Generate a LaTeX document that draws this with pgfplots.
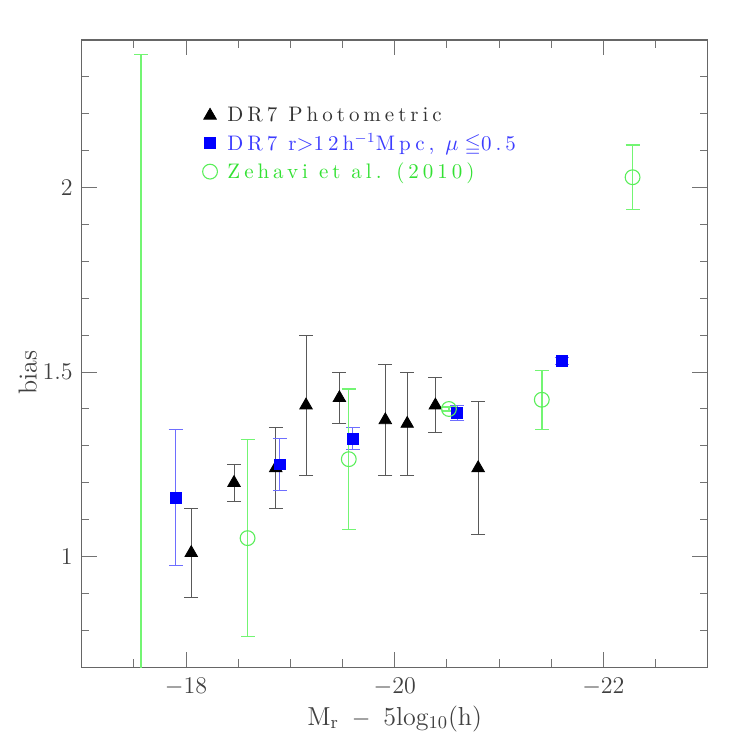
\documentclass[border=0pt]{standalone}
\usepackage{amssymb}
\usepackage{fontspec}
\setmainfont{Latin Modern Roman}
\newfontfamily\legfont{Latin Modern Roman}[LetterSpace=19]
\usepackage{pgfplots}
\pgfplotsset{compat=1.18}
\definecolor{zgreen}{RGB}{115,245,115}
\definecolor{zmark}{RGB}{90,238,90}
\definecolor{sqblue}{RGB}{0,0,255}
\definecolor{sqerr}{RGB}{110,110,255}
\definecolor{txtblue}{RGB}{60,60,255}
\definecolor{txtgreen}{RGB}{50,225,50}

\pgfplotstableread{
x      y     e
-18.05 1.01  0.12
-18.46 1.20  0.05
-18.86 1.24  0.11
-19.15 1.41  0.19
-19.47 1.43  0.07
-19.91 1.37  0.15
-20.12 1.36  0.14
-20.39 1.41  0.075
-20.80 1.24  0.18
}\photo
\pgfplotstableread{
x      y     e
-17.90 1.16  0.185
-18.90 1.25  0.07
-19.60 1.32  0.03
-20.60 1.39  0.02
-21.60 1.53  0.01
}\spec
\pgfplotstableread{
x      y     e
-17.57 0.55  1.81
-18.59 1.05  0.267
-19.56 1.264 0.19
-20.52 1.40  0.005
-21.41 1.425 0.08
-22.28 2.028 0.087
}\zehavi

\begin{document}
\begin{tikzpicture}
\useasboundingbox (-40.85pt,-39.85pt) rectangle (332.15pt,333.65pt);
\begin{axis}[
    at={(0,0)}, anchor=south west,
    scale only axis, width=313pt, height=313.65pt,
    x dir=reverse, xmin=-23, xmax=-17, ymin=0.7, ymax=2.4,
    xtick={-22,-20,-18},
    minor xtick={-22.5,-21.5,-21,-20.5,-19.5,-19,-18.5,-17.5},
    ytick={1,1.5,2},
    minor ytick={0.8,0.9,1.1,1.2,1.3,1.4,1.6,1.7,1.8,1.9,2.1,2.2,2.3},
    tick align=inside,
    major tick length=7.75pt, minor tick length=3.9pt,
    tick style={black!55, line width=0.5pt},
    axis line style={black!60, line width=0.6pt},
    every tick label/.append style={font=\fontsize{13}{15}\selectfont, text=black!75},
    xticklabel style={yshift=-2pt},
    yticklabel style={xshift=-1pt},
    xlabel={M$_{\mathrm{r}}$ \,$-$\, 5log$_{10}$(h)},
    ylabel={bias},
    label style={font=\fontsize{13}{15}\selectfont, text=black!75},
    xlabel style={yshift=2pt},
    ylabel style={at={(ticklabel cs:0.47)}, yshift=-4pt},
    legend style={draw=none, fill=none, at={(0.183,0.907)}, anchor=north west,
        font=\legfont\fontsize{10.5}{12}\selectfont, row sep=0.5pt},
    legend cell align=left,
    clip=true,
]
\addplot[only marks, mark=triangle*, mark size=3.6pt, black,
    error bars/.cd, y dir=both, y explicit,
    error bar style={black!65, line width=0.5pt},
    error mark options={rotate=90, black!65, mark size=3.5pt, line width=0.5pt}]
    table[x=x, y=y, y error=e] {\photo};
\addplot[only marks, mark=square*, mark size=2.7pt, sqblue,
    error bars/.cd, y dir=both, y explicit,
    error bar style={sqerr, line width=0.5pt},
    error mark options={rotate=90, sqerr, mark size=3.5pt, line width=0.5pt}]
    table[x=x, y=y, y error=e] {\spec};
\addplot[only marks, mark=o, mark size=3.7pt, zmark, mark options={line width=0.55pt},
    error bars/.cd, y dir=both, y explicit,
    error bar style={zgreen, line width=0.7pt},
    error mark options={rotate=90, zgreen, mark size=3.5pt, line width=0.7pt}]
    table[x=x, y=y, y error=e] {\zehavi};
\legend{\hspace{3pt}\textcolor{black!80}{DR7 Photometric},
    \hspace{3pt}\textcolor{txtblue}{DR7 r$>$12h$^{-1}$Mpc, $\mu\leqq$0.5},
    \hspace{3pt}\textcolor{txtgreen}{Zehavi et al. (2010)}}
\end{axis}
\end{tikzpicture}
\end{document}
